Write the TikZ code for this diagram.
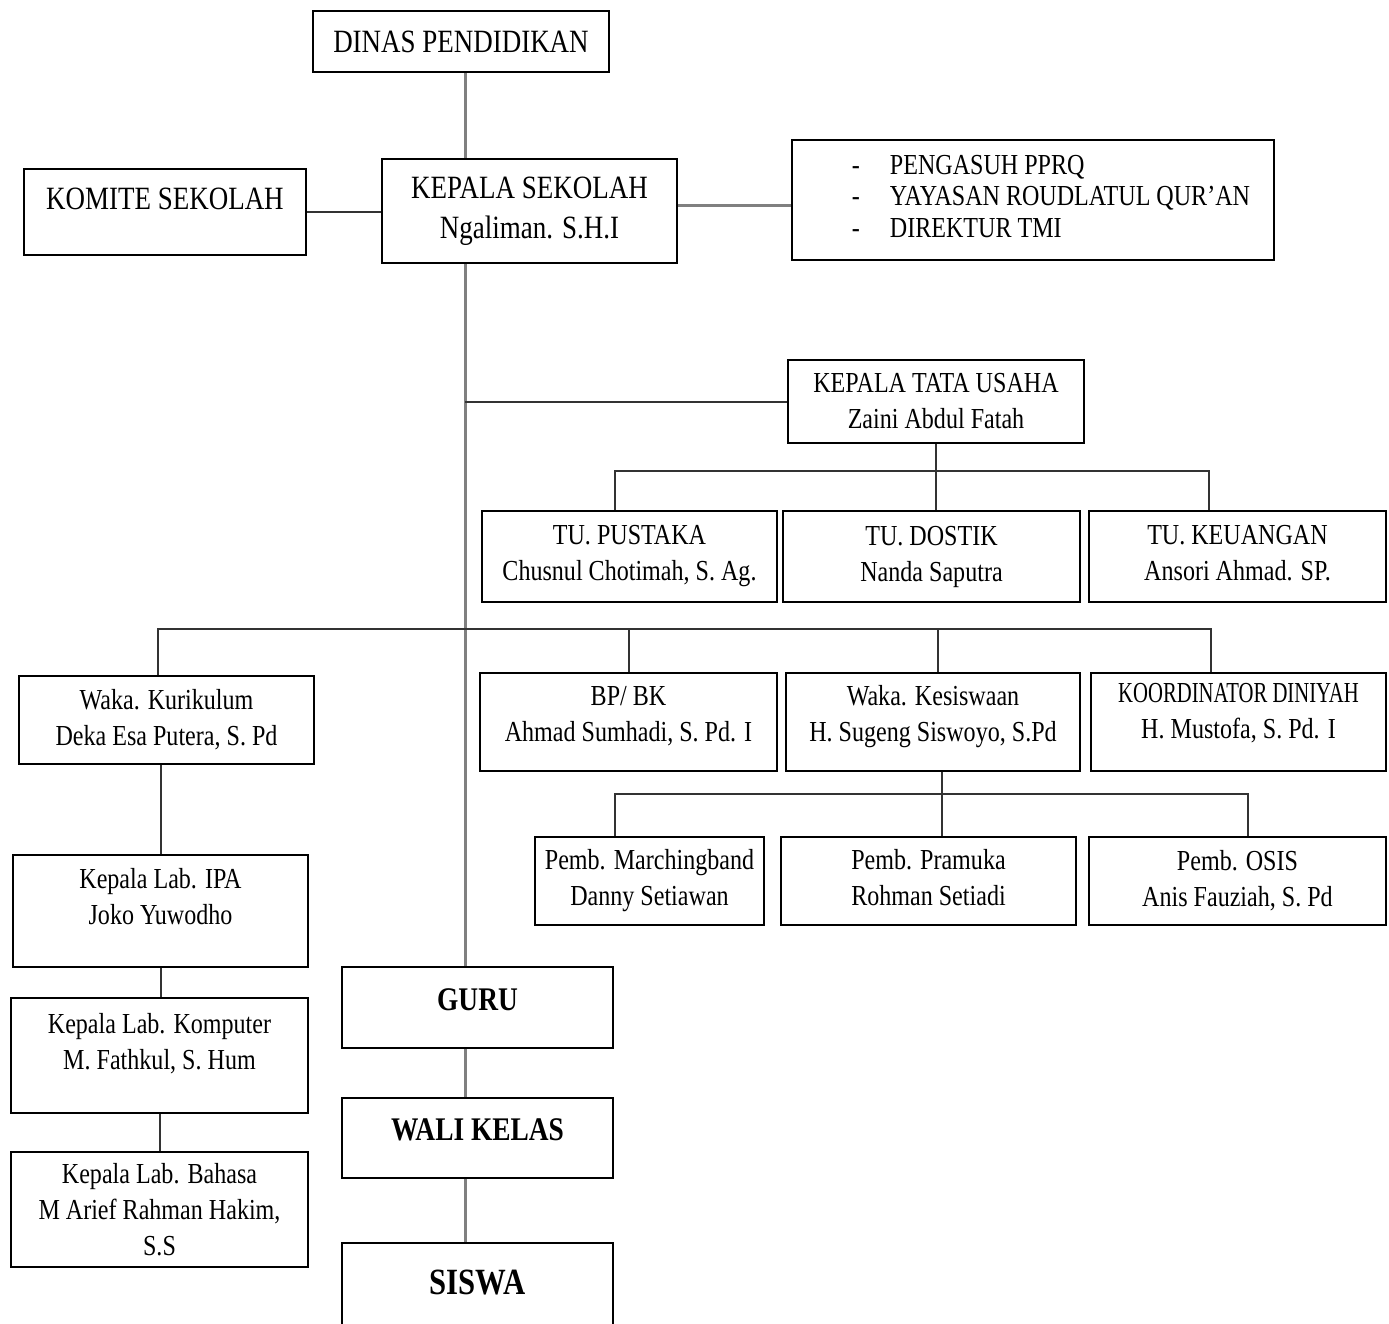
\documentclass[tikz,border=0pt]{standalone}
\usepackage{fontspec}
\usepackage{graphicx}
\setmainfont{Liberation Serif}[FakeStretch=0.83]
\newcommand{\fonttop}{\fontsize{32.5}{40}\selectfont}
\newcommand{\fontsub}{\fontsize{29}{36}\selectfont}
\newcommand{\fontbold}{\fontsize{33}{40}\selectfont\bfseries}
\newcommand{\lowpad}[1]{\rule[-#1pt]{0pt}{0pt}}
\tikzset{
	box/.style={draw, line width=2pt, inner sep=0pt},
	boxtop/.style={box, align=center, font=\fonttop},
	boxsub/.style={box, align=center, font=\fontsub},
	boxbold/.style={box, align=center, font=\fontbold},
	link/.style={draw=black!80, line width=2pt},
	trunk/.style={draw=black!50, line width=3pt}
}
\begin{document}
\begin{tikzpicture}[
	x = 1pt,% ein Pixel der Vorlage
	y = -1pt,% y zaehlt nach unten
	auto
]
\useasboundingbox (0,0) rectangle (1389,1323);%
%
% Leitung
\node(k_dinas)%
    [boxtop, minimum width=296pt, minimum height=61pt]%
    at (461,41.5)%
    {DINAS PENDIDIKAN};%
\node(k_komite)%
    [boxtop, minimum width=282pt, minimum height=86pt]%
    at (165,212)%
    {KOMITE SEKOLAH\lowpad{26}};%
\node(k_kepsek)%
    [boxtop, minimum width=295pt, minimum height=104pt]%
    at (529.5,211)%
    {KEPALA SEKOLAH\\Ngaliman. S.H.I};%
\node(k_pengasuh)%
    [box, font=\fontsize{29}{31.5}\selectfont, minimum width=482pt, minimum height=120pt]%
    at (1033,199.5)%
    {\begin{tabular}{@{\hspace{36pt}}l@{\hspace{30pt}}l@{}}%
    - & PENGASUH PPRQ\\%
    - & YAYASAN ROUDLATUL QUR'AN\\%
    - & DIREKTUR TMI%
    \end{tabular}};%
%
% Tata Usaha
\node(k_ktu)%
    [boxsub, minimum width=296pt, minimum height=83pt]%
    at (936,401.5)%
    {KEPALA TATA USAHA\\Zaini Abdul Fatah};%
\node(k_pustaka)%
    [boxsub, minimum width=295pt, minimum height=91pt]%
    at (629.5,556.5)%
    {TU. PUSTAKA\\Chusnul Chotimah, S. Ag.};%
\node(k_dostik)%
    [boxsub, minimum width=297pt, minimum height=91pt]%
    at (931.5,556.5)%
    {TU. DOSTIK\\Nanda Saputra};%
\node(k_keuangan)%
    [boxsub, minimum width=297pt, minimum height=91pt]%
    at (1237.5,556.5)%
    {TU. KEUANGAN\\Ansori Ahmad. SP.\lowpad{7}};%
%
% Wakil und Koordinator
\node(k_kurikulum)%
    [boxsub, minimum width=295pt, minimum height=88pt]%
    at (166.5,720)%
    {Waka. Kurikulum\\Deka Esa Putera, S. Pd};%
\node(k_bpbk)%
    [boxsub, minimum width=297pt, minimum height=98pt]%
    at (628.5,722)%
    {BP/ BK\\Ahmad Sumhadi, S. Pd. I\lowpad{17}};%
\node(k_kesiswaan)%
    [boxsub, minimum width=294pt, minimum height=98pt]%
    at (933,722)%
    {Waka. Kesiswaan\\H. Sugeng Siswoyo, S.Pd\lowpad{17}};%
\node(k_koordinator)%
    [boxsub, minimum width=295pt, minimum height=98pt]%
    at (1238.5,722)%
    {\scalebox{0.86}[1]{KOORDINATOR DINIYAH}\\H. Mustofa, S. Pd. I\lowpad{22}};%
%
% Pembina
\node(k_marching)%
    [boxsub, minimum width=229pt, minimum height=88pt]%
    at (649.5,881)%
    {Pemb. Marchingband\\Danny Setiawan};%
\node(k_pramuka)%
    [boxsub, minimum width=295pt, minimum height=88pt]%
    at (928.5,881)%
    {Pemb. Pramuka\\Rohman Setiadi\lowpad{7}};%
\node(k_osis)%
    [boxsub, minimum width=297pt, minimum height=88pt]%
    at (1237.5,881)%
    {Pemb. OSIS\\Anis Fauziah, S. Pd};%
%
% Labor
\node(k_labipa)%
    [boxsub, minimum width=295pt, minimum height=112pt]%
    at (160.5,911)%
    {Kepala Lab. IPA\\Joko Yuwodho\lowpad{30}};%
\node(k_labkom)%
    [boxsub, minimum width=297pt, minimum height=115pt]%
    at (159.5,1055.5)%
    {Kepala Lab. Komputer\\M. Fathkul, S. Hum\lowpad{28}};%
\node(k_labbhs)%
    [boxsub, minimum width=297pt, minimum height=115pt]%
    at (159.5,1209.5)%
    {Kepala Lab. Bahasa\\M Arief Rahman Hakim,\\S.S};%
%
% Guru bis Siswa
\node(k_guru)%
    [boxbold, minimum width=271pt, minimum height=81pt]%
    at (477.5,1007.5)%
    {GURU\lowpad{16}};%
\node(k_wali)%
    [boxbold, minimum width=271pt, minimum height=80pt]%
    at (477.5,1138)%
    {WALI KELAS\lowpad{16}};%
\node(k_siswa)%
    [boxbold, font=\fontsize{37}{44}\selectfont\bfseries, minimum width=271pt, minimum height=100pt]%
    at (477.5,1293)%
    {SISWA\lowpad{22}};%
%
% Verbindungen
\coordinate(k_trunk) at (465,0);%
\draw[trunk] (k_dinas.south -| k_trunk) -- (k_kepsek.north -| k_trunk);%
\draw[trunk] (k_kepsek.south -| k_trunk) -- (k_guru.north -| k_trunk);%
\draw[trunk] (k_guru.south -| k_trunk) -- (k_wali.north -| k_trunk);%
\draw[trunk] (k_wali.south -| k_trunk) -- (k_siswa.north -| k_trunk);%
\draw[link] (k_komite.east) -- (k_komite.east -| k_kepsek.west);%
\draw[trunk] ([yshift=6pt]k_kepsek.east) -- ([yshift=6pt]k_kepsek.east -| k_pengasuh.west);%
\draw[link] (k_ktu.west -| k_trunk) -- (k_ktu.west);%
%
\draw[link] (k_ktu.south) -- ++(0,27) coordinate(k_tubar);%
\draw[link] ([xshift=-15pt]k_pustaka.north) |- (k_tubar) -| ([xshift=-29pt]k_keuangan.north);%
\draw[link] (k_tubar) -- (k_tubar |- k_dostik.north);%
%
\draw[link] ([xshift=-9pt]k_kurikulum.north) -- ++(0,-46) coordinate(k_wbar) -| ([xshift=-28pt]k_koordinator.north);%
\draw[link] (k_bpbk.north) -- (k_bpbk.north |- k_wbar);%
\draw[link] ([xshift=5pt]k_kesiswaan.north) -- ([xshift=5pt]k_kesiswaan.north |- k_wbar);%
%
\draw[link] ([xshift=9pt]k_kesiswaan.south) -- ++(0,22) coordinate(k_pbar);%
\draw[link] ([xshift=-35pt]k_marching.north) |- (k_pbar) -| ([xshift=10pt]k_osis.north);%
\draw[link] (k_pbar) -- (k_pbar |- k_pramuka.north);%
%
\draw[link] (k_kurikulum.south -| k_labipa.north) -- (k_labipa.north);%
\draw[link] (k_labipa.south) -- (k_labipa.south |- k_labkom.north);%
\draw[link] (k_labkom.south) -- (k_labkom.south |- k_labbhs.north);%
%
\end{tikzpicture}
\end{document}
